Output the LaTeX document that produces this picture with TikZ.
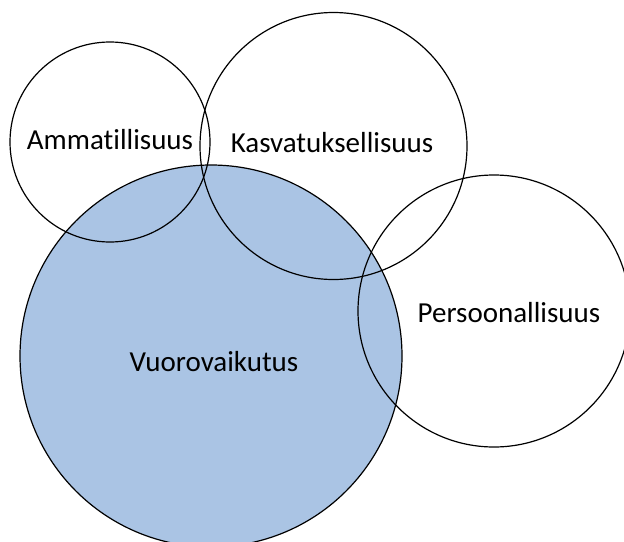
\documentclass[tikz,border=0pt]{standalone}
\usepackage{fontspec}
\setmainfont{Carlito}[Ligatures={NoCommon,NoRare,NoContextual}]
\definecolor{vuoroblue}{RGB}{170,196,228}
\begin{document}
\begin{tikzpicture}[x=1pt,y=-1pt,
    ring/.style={draw=black, line width=1.2pt},
    label/.style={font=\fontsize{29}{32}\selectfont, inner sep=0pt}]
      \clip (0,0) rectangle (624,541);
      \fill[white] (0,0) rectangle (624,541);
      % filled circle first, the others on top
      \filldraw[ring, fill=vuoroblue] (211,356) circle (191);
      \draw[ring] (110,142) circle (100);
      \draw[ring] (333.5,146) circle (133.5);
      \draw[ring] (494,311) circle (136);
      \node[label] (amm) at (110,140) {Ammatillisuus};
      \node[label] (kasv) at (332,143) {Kasvatuksellisuus};
      \node[label] (pers) at (509,313) {Persoonallisuus};
      \node[label] (vuoro) at (214,362) {Vuorovaikutus};
    \end{tikzpicture}
\end{document}
